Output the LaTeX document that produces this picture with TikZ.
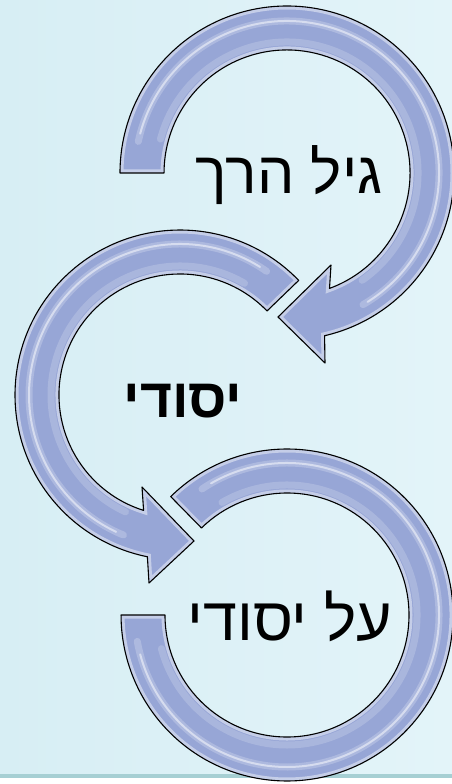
\documentclass[tikz,border=0pt]{standalone}
\usepackage{fontspec}
\newfontfamily\hebfont[Script=Hebrew]{Liberation Sans}
\TeXXeTstate=1
\definecolor{bgA}{HTML}{D7EEF4}
\definecolor{bgB}{HTML}{E3F4F9}
\definecolor{bandc}{HTML}{97A6D6}
\definecolor{tealline}{HTML}{A6CFD3}
\tikzset{
  bandshape/.style={fill=bandc, draw=black, line width=1.1pt, line join=round},
  glow/.style={draw=white, opacity=0.45, line width=7pt},
  softstreak/.style={draw=white, opacity=0.22, line width=7pt, line cap=round},
  streak/.style={draw=white, opacity=0.5, line width=2pt, line cap=round},
  hebtext/.style={inner sep=0pt, anchor=base, text=black}
}
\begin{document}
\begin{tikzpicture}[x=1pt,y=-1pt]
\useasboundingbox (0,0) rectangle (452,784);
% background
\fill[left color=bgA, right color=bgB] (0,0) rectangle (452,777);
\fill[white] (0,777) rectangle (452,784);
\fill[tealline] (0,773.5) rectangle (452,777.5);

\def\arcone{(120,173) arc[start angle=180, end angle=437, radius=167]
  -- (325,363) -- (278,317) -- (331,265) -- (329.5,288.4)
  arc[start angle=429.8, end angle=180, radius=123] -- cycle}
\def\arctwo{(298.7,280.4) arc[start angle=-44, end angle=-258.6, radius=165]
  -- (149,583) -- (194,541) -- (142,487) -- (143.6,510.4)
  arc[start angle=-252.5, end angle=-44, radius=121] -- cycle}
\def\arcthree{(170.7,496.6) arc[start angle=225.5, end angle=540, radius=166]
  -- (165,615) arc[start angle=540, end angle=225.5, radius=122] -- cycle}

% arc 1
\fill[bandc] \arcone;
\begin{scope}\clip \arcone; \draw[glow] \arcone;
 \draw[softstreak] ([shift={(287,173)}]192:152) arc[start angle=192, end angle=420, radius=152];
 \draw[streak] ([shift={(287,173)}]195:152) arc[start angle=195, end angle=418, radius=152];
 \draw[softstreak, opacity=0.18] ([shift={(287,173)}]195:131) arc[start angle=195, end angle=415, radius=131];
\end{scope}
\draw[bandshape, fill=none] \arcone;

% arc 2
\fill[bandc] \arctwo;
\begin{scope}\clip \arctwo; \draw[glow] \arctwo;
 \draw[softstreak] ([shift={(180,395)}]-55:151) arc[start angle=-55, end angle=-248, radius=151];
 \draw[streak] ([shift={(180,395)}]-58:151) arc[start angle=-58, end angle=-245, radius=151];
 \draw[softstreak, opacity=0.18] ([shift={(180,395)}]-60:129) arc[start angle=-60, end angle=-245, radius=129];
\end{scope}
\draw[bandshape, fill=none] \arctwo;

% arc 3
\fill[bandc] \arcthree;
\begin{scope}\clip \arcthree; \draw[glow] \arcthree;
 \draw[softstreak] ([shift={(287,615)}]236:152) arc[start angle=236, end angle=530, radius=152];
 \draw[streak] ([shift={(287,615)}]240:152) arc[start angle=240, end angle=525, radius=152];
 \draw[softstreak, opacity=0.18] ([shift={(287,615)}]240:130) arc[start angle=240, end angle=525, radius=130];
\end{scope}
\draw[bandshape, fill=none] \arcthree;

% texts
\node[hebtext, font=\hebfont\fontsize{59}{63}\selectfont] (t1) at (289,193) {\beginR גיל הרך\endR};
\node[hebtext, font=\hebfont\bfseries\fontsize{55}{59}\selectfont] (t2) at (183,417) {\beginR יסודי\endR};
\node[hebtext, font=\hebfont\fontsize{61}{65}\selectfont] (t3) at (290,640) {\beginR על יסודי\endR};
\end{tikzpicture}
\end{document}
